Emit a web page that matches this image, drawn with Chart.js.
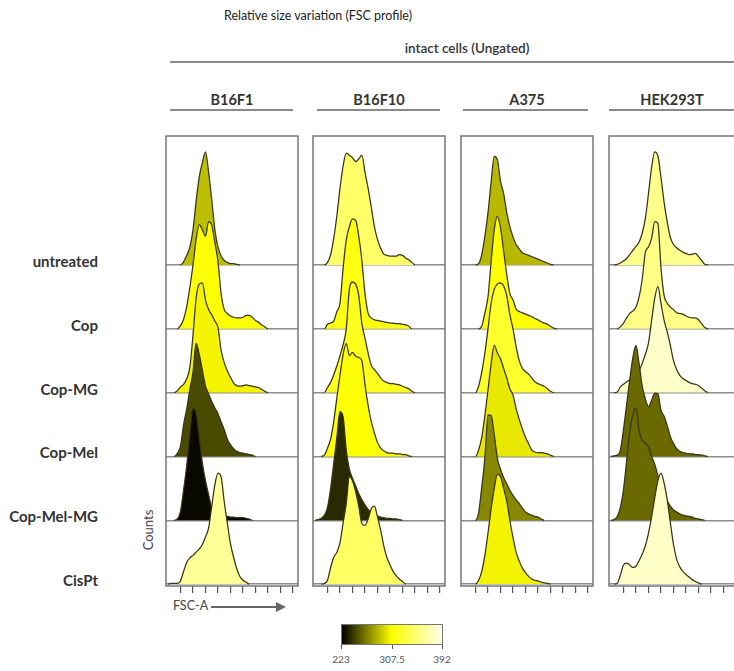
<!DOCTYPE html>
<html lang="en">
<head>
    <meta charset="UTF-8">
    <title>Relative size variation (FSC profile)</title>
    <style>
        body {
            margin: 0;
            width: 734px;
            height: 671px;
            overflow: hidden;
            position: relative;
            background: #fff;
            font-family: Lato, "Open Sans", Arial, sans-serif;
            color: #333;
        }
        .abs { position: absolute; white-space: nowrap; }
        .title {
            left: 0; width: 636px; top: 8px; text-align: center;
            font-family: "Liberation Sans Narrow", Lato, sans-serif;
            font-size: 12.5px; color: #222;
        }
        .group { left: 400px; width: 134px; top: 40px; text-align: center; font-size: 13.5px; font-weight: 600; color: #333; }
        .rule { position: absolute; height: 2px; background: #8a8a8a; }
        .cell { width: 140px; text-align: center; font-size: 14.5px; font-weight: bold; color: #333; top: 91px; }
        .row { left: 0; width: 98px; text-align: right; font-size: 15px; font-weight: bold; color: #333; line-height: 18px; }
        .panel { position: absolute; top: 134px; }
        .counts { left: 148px; top: 530px; font-size: 13px; color: #444; transform: translate(-50%, -50%) rotate(-90deg); }
        .fsc { left: 173px; top: 598px; font-size: 12.5px; color: #444; }
        .arrow { position: absolute; left: 211px; top: 606px; width: 66px; height: 2px; background: #666; }
        .arrowhead {
            position: absolute; left: 276px; top: 602px; width: 0; height: 0;
            border-top: 5px solid transparent; border-bottom: 5px solid transparent; border-left: 10px solid #666;
        }
        .bar { position: absolute; left: 341px; top: 624px; width: 102px; height: 21px; border: 1px solid #777; box-sizing: border-box; }
        .btick { position: absolute; top: 645px; width: 1px; height: 4px; background: #555; }
        .blabel { top: 653px; width: 40px; text-align: center; font-size: 10px; color: #555; }
    </style>
</head>
<body>
    <div class="abs title">Relative size variation (FSC profile)</div>
    <div class="abs group">intact cells (Ungated)</div>
    <div class="rule" style="left:170px; top:61px; width:564px;"></div>

    <div class="abs cell" style="left:162px;">B16F1</div>
    <div class="abs cell" style="left:309px;">B16F10</div>
    <div class="abs cell" style="left:457px;">A375</div>
    <div class="abs cell" style="left:602px;">HEK293T</div>
    <div class="rule" style="left:170px; top:109px; width:123px;"></div>
    <div class="rule" style="left:317px; top:109px; width:123px;"></div>
    <div class="rule" style="left:463px; top:109px; width:125px;"></div>
    <div class="rule" style="left:609px; top:109px; width:125px;"></div>

    <div id="rowLabels"></div>

    <div class="abs counts">Counts</div>
    <div class="abs fsc">FSC-A</div>
    <div class="arrow"></div>
    <div class="arrowhead"></div>

    <div class="panel" style="left:164px;"><canvas id="c-b16f1" width="136" height="459"></canvas></div>
    <div class="panel" style="left:311px;"><canvas id="c-b16f10" width="136" height="459"></canvas></div>
    <div class="panel" style="left:459px;"><canvas id="c-a375" width="136" height="459"></canvas></div>
    <div class="panel" style="left:607px;"><canvas id="c-hek293t" width="136" height="459"></canvas></div>

    <div class="bar" id="colorBar"></div>
    <div id="barTicks"></div>

    <script src="https://cdn.jsdelivr.net/npm/chart.js"></script>
    <script>
        const treatments = ['untreated', 'Cop', 'Cop-MG', 'Cop-Mel', 'Cop-Mel-MG', 'CisPt'];
        const cellLines = ['B16F1', 'B16F10', 'A375', 'HEK293T'];

        // FSC-A axis: tick marks only, values in arbitrary channel units
        const fscTicks = [0, 1, 2, 3, 4, 5, 6, 7, 8, 9];
        const fscGrid = [-1, -0.75, -0.5, -0.25, 0, 0.25, 0.5, 0.75, 1, 1.25, 1.5, 1.75, 2, 2.25, 2.5, 2.75, 3,
            3.25, 3.5, 3.75, 4, 4.25, 4.5, 4.75, 5, 5.25, 5.5, 5.75, 6, 6.25, 6.5, 6.75, 7, 7.25];

        // normalised counts, one row per treatment (same order as treatments)
        const b16f1Counts = [
            [0, 0, 0, 0, 0, 0.05, 0.15, 0.28, 0.55, 1.0, 1.38, 1.6, 1.77, 1.45, 1.02, 0.55, 0.28, 0.14, 0.07, 0.04, 0.02, 0.02, 0.01, 0, 0, 0, 0, 0, 0, 0, 0, 0, 0, 0],
            [0, 0, 0, 0, 0.05, 0.15, 0.35, 0.65, 1.0, 1.4, 1.63, 1.55, 1.45, 1.68, 1.62, 1.35, 1.05, 0.55, 0.3, 0.24, 0.2, 0.18, 0.17, 0.17, 0.18, 0.21, 0.21, 0.18, 0.13, 0.1, 0.06, 0.03, 0, 0],
            [0, 0, 0, 0.03, 0.09, 0.13, 0.22, 0.4, 0.9, 1.48, 1.7, 1.72, 1.45, 1.3, 1.22, 1.12, 1.02, 0.66, 0.47, 0.34, 0.24, 0.15, 0.11, 0.1, 0.11, 0.12, 0.11, 0.1, 0.09, 0.08, 0.05, 0.02, 0, 0],
            [0, 0, 0, 0.05, 0.16, 0.5, 0.75, 1.05, 1.32, 1.77, 1.6, 1.35, 1.1, 0.98, 0.86, 0.76, 0.67, 0.54, 0.42, 0.27, 0.18, 0.12, 0.08, 0.06, 0.05, 0.04, 0.03, 0.02, 0, 0, 0, 0, 0, 0],
            [0, 0, 0, 0.02, 0.14, 0.48, 0.86, 1.37, 1.75, 1.68, 1.3, 0.9, 0.62, 0.4, 0.2, 0.13, 0.1, 0.08, 0.07, 0.06, 0.05, 0.05, 0.04, 0.04, 0.04, 0.03, 0.02, 0, 0, 0, 0, 0, 0, 0],
            [0, 0.01, 0.01, 0.01, 0.05, 0.2, 0.34, 0.41, 0.45, 0.5, 0.55, 0.62, 0.74, 0.88, 1.22, 1.56, 1.74, 1.68, 1.29, 0.95, 0.63, 0.42, 0.24, 0.12, 0.06, 0.03, 0, 0, 0, 0, 0, 0, 0, 0]
        ];
        const b16f10Counts = [
            [0, 0, 0, 0, 0.04, 0.16, 0.42, 0.77, 1.2, 1.55, 1.75, 1.72, 1.68, 1.62, 1.66, 1.72, 1.45, 1.2, 0.91, 0.6, 0.4, 0.26, 0.17, 0.15, 0.14, 0.14, 0.14, 0.16, 0.15, 0.11, 0.08, 0.04, 0, 0],
            [0, 0, 0, 0, 0.07, 0.09, 0.12, 0.27, 0.4, 0.95, 1.39, 1.6, 1.72, 1.7, 1.45, 1.07, 0.55, 0.24, 0.17, 0.14, 0.13, 0.12, 0.11, 0.1, 0.09, 0.09, 0.08, 0.08, 0.07, 0.06, 0.04, 0, 0, 0],
            [0, 0, 0, 0, 0.08, 0.16, 0.28, 0.42, 0.58, 0.75, 1.0, 1.62, 1.73, 1.7, 1.52, 1.08, 0.85, 0.62, 0.43, 0.36, 0.3, 0.23, 0.18, 0.16, 0.14, 0.14, 0.13, 0.12, 0.1, 0.08, 0.06, 0.02, 0, 0],
            [0, 0, 0, 0.02, 0.13, 0.27, 0.55, 0.92, 1.27, 1.6, 1.77, 1.58, 1.63, 1.57, 1.55, 1.5, 1.12, 0.8, 0.55, 0.37, 0.22, 0.13, 0.09, 0.06, 0.05, 0.05, 0.04, 0.04, 0.03, 0.03, 0.01, 0, 0, 0],
            [0, 0.01, 0.03, 0.08, 0.2, 0.5, 0.9, 1.3, 1.7, 1.62, 1.1, 0.8, 0.66, 0.54, 0.42, 0.32, 0.24, 0.17, 0.12, 0.09, 0.07, 0.05, 0.04, 0.03, 0.03, 0.02, 0.02, 0.01, 0, 0, 0, 0, 0, 0],
            [0, 0, 0, 0.01, 0.06, 0.26, 0.42, 0.5, 0.65, 0.96, 1.26, 1.68, 1.62, 1.45, 1.22, 0.95, 0.92, 1.02, 1.18, 1.22, 1.05, 0.85, 0.6, 0.42, 0.3, 0.2, 0.13, 0.08, 0.04, 0, 0, 0, 0, 0]
        ];
        const a375Counts = [
            [0, 0, 0, 0, 0, 0.02, 0.16, 0.45, 0.82, 1.3, 1.7, 1.65, 1.31, 1.12, 0.82, 0.6, 0.44, 0.32, 0.25, 0.19, 0.17, 0.15, 0.13, 0.11, 0.09, 0.07, 0.05, 0.03, 0.01, 0, 0, 0, 0, 0],
            [0, 0, 0, 0, 0, 0, 0.04, 0.25, 0.5, 1.05, 1.55, 1.76, 1.58, 1.22, 0.85, 0.55, 0.45, 0.31, 0.27, 0.25, 0.23, 0.21, 0.19, 0.16, 0.14, 0.11, 0.09, 0.07, 0.04, 0.01, 0, 0, 0, 0],
            [0, 0, 0, 0, 0, 0.1, 0.32, 0.62, 1.0, 1.4, 1.62, 1.7, 1.72, 1.67, 1.52, 1.22, 1.0, 0.72, 0.5, 0.38, 0.33, 0.29, 0.23, 0.17, 0.14, 0.12, 0.1, 0.06, 0.02, 0, 0, 0, 0, 0],
            [0, 0, 0, 0, 0, 0.1, 0.3, 0.64, 1.04, 1.45, 1.74, 1.62, 1.53, 1.38, 1.23, 1.06, 0.96, 0.75, 0.58, 0.43, 0.3, 0.2, 0.1, 0.07, 0.06, 0.06, 0.05, 0.04, 0.02, 0, 0, 0, 0, 0],
            [0, 0, 0, 0, 0, 0.12, 0.52, 0.98, 1.65, 1.64, 1.34, 0.97, 0.8, 0.67, 0.57, 0.47, 0.39, 0.32, 0.26, 0.19, 0.13, 0.1, 0.08, 0.06, 0.05, 0.02, 0, 0, 0, 0, 0, 0, 0, 0],
            [0, 0, 0, 0, 0, 0.06, 0.2, 0.45, 0.8, 1.18, 1.5, 1.72, 1.68, 1.5, 1.3, 1.0, 0.73, 0.5, 0.36, 0.25, 0.18, 0.12, 0.08, 0.06, 0.05, 0.03, 0.02, 0.01, 0, 0, 0, 0, 0, 0]
        ];
        const hek293tCounts = [
            [0, 0, 0.01, 0.03, 0.06, 0.1, 0.16, 0.23, 0.29, 0.36, 0.5, 0.73, 1.12, 1.53, 1.77, 1.71, 1.37, 0.98, 0.67, 0.43, 0.32, 0.27, 0.23, 0.2, 0.18, 0.16, 0.17, 0.18, 0.13, 0.07, 0.01, 0, 0, 0],
            [0, 0, 0, 0.03, 0.09, 0.17, 0.24, 0.28, 0.34, 0.5, 0.78, 1.2, 1.28, 1.42, 1.68, 1.65, 0.95, 0.52, 0.4, 0.34, 0.3, 0.25, 0.24, 0.23, 0.2, 0.18, 0.17, 0.17, 0.14, 0.08, 0.02, 0, 0, 0],
            [0, 0, 0.01, 0.09, 0.13, 0.17, 0.2, 0.23, 0.28, 0.34, 0.46, 0.6, 0.78, 1.13, 1.48, 1.66, 1.4, 1.13, 0.95, 0.74, 0.5, 0.36, 0.27, 0.22, 0.19, 0.16, 0.14, 0.13, 0.11, 0.07, 0.03, 0, 0, 0],
            [0, 0.01, 0.02, 0.1, 0.42, 0.81, 1.2, 1.55, 1.74, 1.45, 1.1, 0.9, 0.78, 0.88, 0.99, 0.98, 0.72, 0.63, 0.48, 0.31, 0.2, 0.12, 0.08, 0.06, 0.05, 0.04, 0.04, 0.03, 0.03, 0.02, 0.01, 0, 0, 0],
            [0, 0.01, 0.06, 0.2, 0.48, 0.93, 1.38, 1.65, 1.76, 1.4, 1.25, 1.21, 1.15, 1.0, 0.88, 0.7, 0.52, 0.38, 0.3, 0.22, 0.16, 0.13, 0.1, 0.08, 0.07, 0.06, 0.05, 0.03, 0.02, 0.01, 0, 0, 0, 0],
            [0, 0, 0.01, 0.14, 0.3, 0.33, 0.3, 0.26, 0.28, 0.37, 0.47, 0.6, 0.8, 1.05, 1.35, 1.62, 1.74, 1.58, 1.32, 0.96, 0.62, 0.39, 0.27, 0.2, 0.15, 0.11, 0.07, 0.04, 0.02, 0, 0, 0, 0, 0]
        ];

        // colour-scale value of each histogram (223 .. 392)
        const b16f1Median = [286, 309, 304, 248, 226, 362];
        const b16f10Median = [345, 314, 318, 309, 237, 343];
        const a375Median = [284, 309, 324, 300, 268, 304];
        const hek293tMedian = [358, 356, 380, 258, 258, 379];

        const scaleStops = [223, 307.5, 392];
        const scaleLabels = ['223', '307.5', '392'];
        const scaleColors = [[0, 0, 0], [255, 255, 0], [255, 255, 235]];

        function fscColor(v) {
            let i = v < scaleStops[1] ? 0 : 1;
            let t = (v - scaleStops[i]) / (scaleStops[i + 1] - scaleStops[i]);
            t = Math.max(0, Math.min(1, t));
            const c = scaleColors[i].map((a, k) => Math.round(a + (scaleColors[i + 1][k] - a) * t));
            return `rgb(${c[0]}, ${c[1]}, ${c[2]})`;
        }

        // row labels and colour bar
        const rowBase = [265, 329, 392.5, 456, 520, 584];
        document.getElementById('rowLabels').innerHTML = treatments.map(
            (t, r) => `<div class="abs row" style="top:${rowBase[r] - 13}px">${t}</div>`
        ).join('');
        document.getElementById('colorBar').style.background =
            `linear-gradient(to right, ${scaleColors.map(c => `rgb(${c.join(',')})`).join(', ')})`;
        const barPos = [341, 392, 442];
        document.getElementById('barTicks').innerHTML = scaleLabels.map((l, i) =>
            `<div class="btick" style="left:${barPos[i]}px"></div><div class="abs blabel" style="left:${barPos[i] - 20}px">${l}</div>`
        ).join('');

        const boxPlugin = {
            id: 'box',
            afterDraw(chart) {
                const {ctx, chartArea: a} = chart;
                ctx.save();
                ctx.strokeStyle = '#777';
                ctx.lineWidth = 1.5;
                ctx.strokeRect(a.left, a.top, a.right - a.left, a.bottom - a.top);
                ctx.restore();
            }
        };

        const panels = [
            {id: 'c-b16f1', counts: b16f1Counts, median: b16f1Median},
            {id: 'c-b16f10', counts: b16f10Counts, median: b16f10Median},
            {id: 'c-a375', counts: a375Counts, median: a375Median},
            {id: 'c-hek293t', counts: hek293tCounts, median: hek293tMedian}
        ];

        panels.forEach(p => {
            const n = treatments.length;
            const datasets = treatments.map((t, r) => {
                const base = n - 1 - r;
                return {
                    label: t,
                    data: fscGrid.map((x, i) => ({x: x, y: base + p.counts[r][i]})),
                    fill: {value: base},
                    backgroundColor: fscColor(p.median[r]),
                    borderColor: '#36351a',
                    borderWidth: 1.25,
                    pointRadius: 0,
                    cubicInterpolationMode: 'monotone',
                    order: n - r,
                    segment: {
                        borderColor: ctx => (ctx.p0.parsed.y === base && ctx.p1.parsed.y === base) ? 'rgba(0,0,0,0)' : undefined
                    }
                };
            });

            new Chart(document.getElementById(p.id), {
                type: 'line',
                data: {datasets: datasets},
                options: {
                    responsive: false,
                    animation: false,
                    events: [],
                    layout: {padding: {left: 2, right: 2, top: 2, bottom: 0}},
                    plugins: {legend: {display: false}, tooltip: {enabled: false}},
                    scales: {
                        x: {
                            type: 'linear',
                            min: -1.16,
                            max: 9.4,
                            afterBuildTicks: s => { s.ticks = fscTicks.map(v => ({value: v})); },
                            ticks: {display: false},
                            grid: {drawOnChartArea: false, drawTicks: true, tickLength: 7, color: '#555', lineWidth: 1.2},
                            border: {display: false}
                        },
                        y: {
                            type: 'linear',
                            min: -0.03,
                            max: 7.02,
                            afterBuildTicks: s => { s.ticks = [0, 1, 2, 3, 4, 5].map(v => ({value: v})); },
                            ticks: {display: false},
                            grid: {drawTicks: false, color: '#8c8c8c', lineWidth: 1.4},
                            border: {display: false}
                        }
                    }
                },
                plugins: [boxPlugin]
            });
        });
    </script>
</body>
</html>
